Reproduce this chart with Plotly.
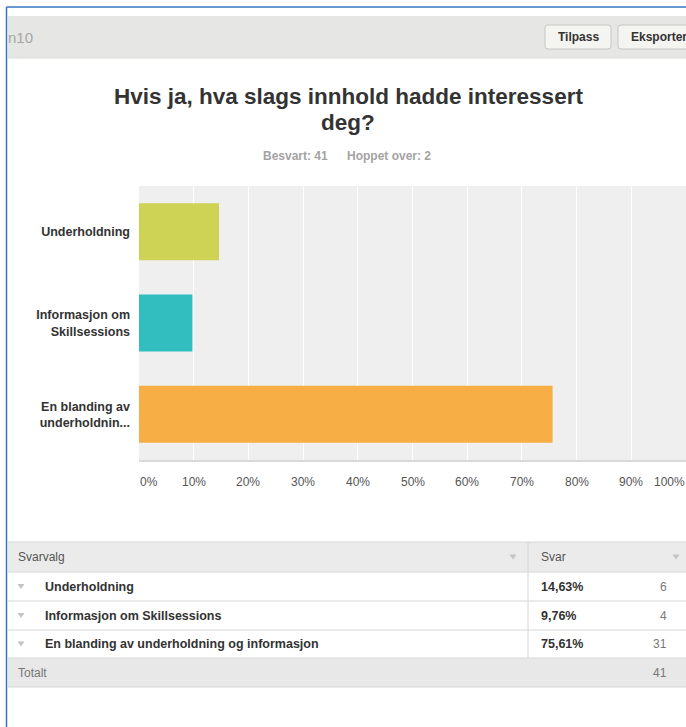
import plotly.graph_objects as go

# ---- survey data -------------------------------------------------------
question_id = "n10"
title_lines = ["Hvis ja, hva slags innhold hadde interessert", "deg?"]
answered = 41
skipped = 2

choices = ["Underholdning",
           "Informasjon om Skillsessions",
           "En blanding av underholdning og informasjon"]
axis_labels = ["Underholdning",
               "Informasjon om<br>Skillsessions",
               "En blanding av<br>underholdnin..."]
percent = [14.63, 9.76, 75.61]
counts = [6, 4, 31]
bar_colors = ["#CFD355", "#32BEBF", "#F7AF45"]
tick_values = [0, 10, 20, 30, 40, 50, 60, 70, 80, 90, 100]
tick_text = [f"{v}%" for v in tick_values]

# ---- page geometry -----------------------------------------------------
W, H = 686, 727
PL, PR, PT, PB = 139, 686, 186, 460   # plot area in page pixels
FONT = "Liberation Sans, Arial, Helvetica, sans-serif"


def px(x):
    return (x - PL) / (PR - PL)


def py(y):
    return (PB - y) / (PB - PT)


fig = go.Figure(go.Bar(
    x=percent,
    y=axis_labels,
    orientation="h",
    marker=dict(color=bar_colors, line=dict(width=0)),
    hoverinfo="skip",
))

shapes = []
annotations = []


def rect(x0, y0, x1, y1, fill, line=None, lw=0):
    shapes.append(dict(type="rect", xref="paper", yref="paper",
                       x0=px(x0), x1=px(x1), y0=py(y0), y1=py(y1),
                       fillcolor=fill, layer="below",
                       line=dict(color=line or fill, width=lw)))


def hline(x0, x1, y, color, w=1):
    shapes.append(dict(type="line", xref="paper", yref="paper",
                       x0=px(x0), x1=px(x1), y0=py(y), y1=py(y),
                       line=dict(color=color, width=w)))


def vline(x, y0, y1, color, w=1):
    shapes.append(dict(type="line", xref="paper", yref="paper",
                       x0=px(x), x1=px(x), y0=py(y0), y1=py(y1),
                       line=dict(color=color, width=w)))


def caret(x, y, color="#C4C4C4"):
    # small downward-pointing sort/expand marker
    w, h = 3.5, 2.5
    path = (f"M {px(x - w)},{py(y - h)} L {px(x + w)},{py(y - h)} "
            f"L {px(x)},{py(y + h)} Z")
    shapes.append(dict(type="path", xref="paper", yref="paper", path=path,
                       fillcolor=color, line=dict(width=0)))


def text(x, y, s, size=12, color="#333333", bold=False, anchor="left"):
    annotations.append(dict(xref="paper", yref="paper", x=px(x), y=py(y),
                            text=f"<b>{s}</b>" if bold else s,
                            showarrow=False, xanchor=anchor, yanchor="middle",
                            borderpad=0,
                            font=dict(family=FONT, size=size, color=color)))


def button(x0, y0, x1, y1, label):
    r = 3
    X0, X1 = px(x0), px(x1)
    Y0, Y1 = py(y0), py(y1)
    rx = r / (PR - PL)
    ry = r / (PB - PT)
    path = (f"M {X0+rx},{Y0} L {X1-rx},{Y0} Q {X1},{Y0} {X1},{Y0-ry} "
            f"L {X1},{Y1+ry} Q {X1},{Y1} {X1-rx},{Y1} L {X0+rx},{Y1} "
            f"Q {X0},{Y1} {X0},{Y1+ry} L {X0},{Y0-ry} Q {X0},{Y0} {X0+rx},{Y0} Z")
    shapes.append(dict(type="path", xref="paper", yref="paper", path=path,
                       fillcolor="#F4F4F1", line=dict(color="#C6C6C3", width=1)))
    text((x0 + x1) / 2, (y0 + y1) / 2, label, 12, "#333333", True, "center")


# ---- header bar --------------------------------------------------------
rect(8, 16, 686, 58, "#E6E6E4")
hline(8, 686, 58, "#DCDCDA")
text(7, 37, question_id, 15, "#A6A6A6")
button(545, 25, 611, 49, "Tilpass")
button(618, 25, 700, 49, "Eksporter")

# ---- title and summary -------------------------------------------------
text(348, 96, title_lines[0], 22.5, "#333333", True, "center")
text(348, 122, title_lines[1], 22.5, "#333333", True, "center")
text(262, 156, f"Besvart: {answered}", 12, "#A3A3A3", True, "left")
text(432, 156, f"Hoppet over: {skipped}", 12, "#A3A3A3", True, "right")

# ---- x tick labels (centred on gridlines, end labels kept inside) ------
for v, t in zip(tick_values, tick_text):
    if v == tick_values[0]:
        anchor = "left"
    elif v == tick_values[-1]:
        anchor = "right"
    else:
        anchor = "center"
    annotations.append(dict(xref="x", yref="paper", x=v, y=py(482),
                            text=t, showarrow=False, borderpad=0,
                            xanchor=anchor, yanchor="middle",
                            font=dict(family=FONT, size=12, color="#555555")))

# ---- response table ----------------------------------------------------
TL, TR, SEP = 8, 686, 528
row_edges = [542, 572, 601, 630, 658, 687]
rect(TL, row_edges[0], TR, row_edges[1], "#EBEBEB")
rect(TL, row_edges[4], TR, row_edges[5], "#E8E8E8")
for y in row_edges:
    hline(TL, TR, y, "#D6D6D6")
vline(SEP, row_edges[0], row_edges[4], "#D6D6D6")

hy = (row_edges[0] + row_edges[1]) / 2
text(17, hy, "Svarvalg", 12, "#555555")
text(540, hy, "Svar", 12, "#555555")
caret(513, hy)
caret(676, hy)

for i, (c, p, n) in enumerate(zip(choices, percent, counts)):
    cy = (row_edges[i + 1] + row_edges[i + 2]) / 2
    caret(21, cy)
    text(44, cy, c, 12.5, "#333333", True)
    text(540, cy, f"{p:.2f}".replace(".", ",") + "%", 12.5, "#333333", True)
    text(668, cy, str(n), 12, "#777777", anchor="right")

ty = (row_edges[4] + row_edges[5]) / 2
text(17, ty, "Totalt", 12, "#777777")
text(668, ty, str(sum(counts)), 12, "#777777", anchor="right")

# ---- frame ------------------------------------------------------------
hline(6.5, 686, 7, "#3A74C0", 1.5)
vline(6.5, 7, 727, "#3A74C0", 1.5)

fig.update_layout(
    width=W, height=H,
    margin=dict(l=PL, r=W - PR, t=PT, b=H - PB, pad=0),
    paper_bgcolor="white",
    plot_bgcolor="#EFEFEF",
    showlegend=False,
    bargap=0.376,
    font=dict(family=FONT, color="#333333"),
    shapes=shapes,
    annotations=annotations,
    xaxis=dict(range=[0, 100], tickvals=tick_values, showticklabels=False,
               showgrid=True, gridcolor="#FFFFFF", gridwidth=1,
               zeroline=False, showline=True, linecolor="#D9D9D9",
               linewidth=2, ticks="", fixedrange=True),
    yaxis=dict(autorange="reversed", showgrid=False, zeroline=False,
               showline=False, ticks="", ticklabelstandoff=8,
               tickfont=dict(family=FONT, size=12.5, color="#333333"),
               fixedrange=True),
)
# bold category labels
fig.update_yaxes(tickvals=axis_labels,
                 ticktext=[f"<b>{s}</b>" for s in axis_labels])

fig.write_html("out.html", config={"displayModeBar": False})
